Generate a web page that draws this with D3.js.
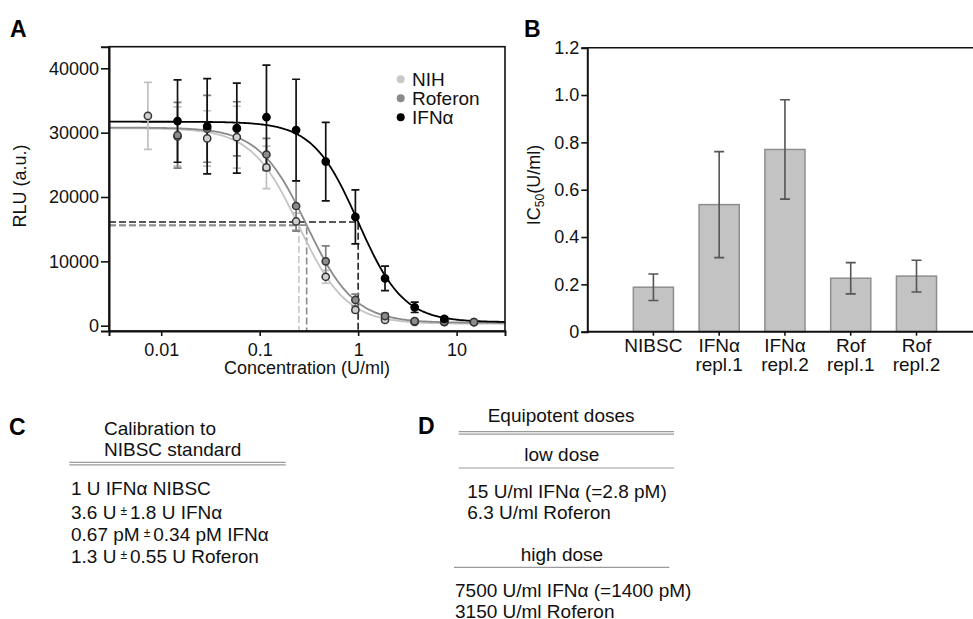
<!DOCTYPE html>
<html>
<head>
<meta charset="utf-8">
<script src="https://cdn.jsdelivr.net/npm/d3@7"></script>
<style>
  html, body { margin: 0; padding: 0; background: #fff; }
  svg { display: block; font-family: "Liberation Sans", Arial, Helvetica, sans-serif; }
</style>
</head>
<body>
<svg id="fig" width="973" height="619"></svg>
<script>
// ---- Panel A: dose-response (RLU vs concentration) ----
const doses = [15, 7.5, 3.75, 1.875, 0.9375, 0.46875, 0.234375, 0.1171875,
               0.05859375, 0.029296875, 0.0146484375, 0.00732421875];
const seriesNames = ["NIH", "Roferon", "IFNα"];
const nihMean = [550, 550, 600, 900, 2450, 7600, 16200, 24600, 29300, 29100, 29400, 32600];
const nihErr  = [200, 200, 250, 300, 400, 1000, 1300, 3300, 4800, 4300, 4600, 5200];
const rofMean = [550, 600, 700, 1500, 4000, 10000, 18600, 26600, 30600, 30600, 29600, null];
const rofErr  = [200, 200, 250, 400, 900, 2400, 3900, 2500, 4200, 5200, 5100, null];
const ifnMean = [null, 1050, 2850, 7350, 16900, 25500, 30400, 32400, 30700, 31000, 31800, null];
const ifnErr  = [null, 300, 800, 1900, 4200, 6100, 7900, 8100, 7000, 7400, 6400, null];
// four-parameter logistic fit of each series
const fitTop    = [30700, 30800, 31700];
const fitBottom = [300, 450, 550];
const fitIC50   = [0.25, 0.30, 1.0];
const fitHill   = [1.8, 1.8, 1.9];
const yTicksA = [0, 10000, 20000, 30000, 40000];
const xTicksA = [0.01, 0.1, 1, 10];

// ---- Panel B: IC50 bars ----
const barCats = ["NIBSC", "IFNα repl.1", "IFNα repl.2", "Rof repl.1", "Rof repl.2"];
const barLabels = [["NIBSC"], ["IFNα", "repl.1"], ["IFNα", "repl.2"], ["Rof", "repl.1"], ["Rof", "repl.2"]];
const ic50Values = [0.188, 0.537, 0.770, 0.226, 0.235];
const ic50Err    = [0.056, 0.224, 0.210, 0.066, 0.067];
const yTicksB = [0, 0.2, 0.4, 0.6, 0.8, 1.0, 1.2];

const svg = d3.select("#fig");
const FONT = 18;
const TFONT = 19;

// colours per series
const lineCol  = ["#c4c4c4", "#8a8a8a", "#000000"];
const fillCol  = ["#d0d0d0", "#8c8c8c", "#000000"];
const errCol   = ["#c0c0c0", "#7e7e7e", "#111111"];
const dashCol  = ["#c8c8c8", "#8a8a8a", "#222222"];

// ===== Panel A =====
const A = { l: 109, r: 505, t: 46.7, b: 331 };
const x = d3.scaleLog().domain([0.00295, 31]).range([A.l, A.r]);
const y = d3.scaleLinear().domain([-824, 43357]).range([A.b, A.t]);

const gA = svg.append("g");

// fitted curves
const logistic = i => c => fitBottom[i] + (fitTop[i] - fitBottom[i]) / (1 + Math.pow(c / fitIC50[i], fitHill[i]));
const curveX = d3.range(0, 301).map(k => Math.pow(10, Math.log10(0.00295) + k * (Math.log10(31) - Math.log10(0.00295)) / 300));

// IC50 guide lines (dashed)
[0, 1, 2].forEach(i => {
  const mid = (fitTop[i] + fitBottom[i]) / 2;
  gA.append("path")
    .attr("d", `M${A.l},${y(mid)}H${x(fitIC50[i])}V${A.b}`)
    .attr("fill", "none").attr("stroke", dashCol[i]).attr("stroke-width", 1.6)
    .attr("stroke-dasharray", "7,3");
});

const lineGen = d3.line().x(d => x(d[0])).y(d => y(d[1]));
[0, 1, 2].forEach(i => {
  const f = logistic(i);
  gA.append("path")
    .datum(curveX.map(c => [c, f(c)]))
    .attr("d", lineGen)
    .attr("fill", "none").attr("stroke", lineCol[i]).attr("stroke-width", 1.8);
});

// error bars and points
const means = [nihMean, rofMean, ifnMean];
const errs = [nihErr, rofErr, ifnErr];
[0, 1, 2].forEach(i => {
  const pts = doses.map((c, k) => ({ c, m: means[i][k], e: errs[i][k] })).filter(d => d.m != null);
  const g = gA.append("g");
  g.selectAll("path.eb").data(pts).join("path")
    .attr("d", d => {
      const cx = x(d.c), y1 = y(d.m + d.e), y0 = y(d.m - d.e);
      return `M${cx},${y1}V${y0}M${cx - 4},${y1}H${cx + 4}M${cx - 4},${y0}H${cx + 4}`;
    })
    .attr("fill", "none").attr("stroke", errCol[i]).attr("stroke-width", 1.7);
});
[0, 1, 2].forEach(i => {
  const pts = doses.map((c, k) => ({ c, m: means[i][k] })).filter(d => d.m != null);
  gA.append("g").selectAll("circle").data(pts).join("circle")
    .attr("cx", d => x(d.c)).attr("cy", d => y(d.m)).attr("r", 3.6)
    .attr("fill", fillCol[i]).attr("stroke", i === 2 ? "#000" : "#333").attr("stroke-width", 1.5);
});

// frame
gA.append("rect").attr("x", A.l).attr("y", A.t).attr("width", A.r - A.l).attr("height", A.b - A.t)
  .attr("fill", "none").attr("stroke", "#111").attr("stroke-width", 1.6);

// axes
const yAxA = gA.append("g").attr("transform", `translate(${A.l},0)`)
  .call(d3.axisLeft(y).tickValues(yTicksA).tickSize(8).tickPadding(2).tickFormat(d3.format("d")));
const xAxA = gA.append("g").attr("transform", `translate(0,${A.b})`)
  .call(d3.axisBottom(x).tickValues(xTicksA).tickSize(5).tickPadding(7).tickFormat(d => String(d)));
[yAxA, xAxA].forEach(ax => {
  ax.select(".domain").attr("stroke", "#111").attr("stroke-width", 2);
  ax.selectAll(".tick line").attr("stroke", "#111").attr("stroke-width", 1.6);
  ax.selectAll("text").attr("font-size", FONT).attr("fill", "#111").attr("font-family", null);
});

gA.append("text").attr("x", (A.l + A.r) / 2 + 0).attr("y", 374).attr("text-anchor", "middle")
  .attr("font-size", FONT).attr("fill", "#111").text("Concentration (U/ml)");
gA.append("text").attr("transform", "translate(26,186) rotate(-90)").attr("text-anchor", "middle")
  .attr("font-size", FONT).attr("fill", "#111").text("RLU (a.u.)");

// legend
const legY = [79.3, 98.3, 117.3];
const legFill = ["#c8c8c8", "#8a8a8a", "#000"];
seriesNames.forEach((n, i) => {
  gA.append("circle").attr("cx", 400.7).attr("cy", legY[i]).attr("r", 4).attr("fill", legFill[i]);
  gA.append("text").attr("x", 412).attr("y", legY[i] + 6.5).attr("font-size", TFONT).attr("fill", "#111").text(n);
});

// ===== Panel B =====
const B = { l: 587.3, t: 47.7, b: 331.7 };
const xb = d3.scaleBand().domain(barCats).range([B.l, 982.6]).paddingInner(0.39).paddingOuter(0.7);
const yb = d3.scaleLinear().domain([0, 1.2]).range([B.b, B.t]);
const gB = svg.append("g");

gB.selectAll("rect.bar").data(barCats).join("rect")
  .attr("x", d => xb(d)).attr("width", xb.bandwidth())
  .attr("y", (d, i) => yb(ic50Values[i])).attr("height", (d, i) => B.b - yb(ic50Values[i]))
  .attr("fill", "#c3c3c3").attr("stroke", "#8e8e8e").attr("stroke-width", 1.5);

gB.selectAll("path.err").data(barCats).join("path")
  .attr("d", (d, i) => {
    const cx = xb(d) + xb.bandwidth() / 2;
    const y1 = yb(ic50Values[i] + ic50Err[i]), y0 = yb(ic50Values[i] - ic50Err[i]);
    return `M${cx},${y1}V${y0}M${cx - 5},${y1}H${cx + 5}M${cx - 5},${y0}H${cx + 5}`;
  })
  .attr("fill", "none").attr("stroke", "#555").attr("stroke-width", 1.6);

// top border line
gB.append("line").attr("x1", B.l).attr("x2", 973).attr("y1", B.t).attr("y2", B.t)
  .attr("stroke", "#111").attr("stroke-width", 1.6);

const yAxB = gB.append("g").attr("transform", `translate(${B.l},0)`)
  .call(d3.axisLeft(yb).tickValues(yTicksB).tickSize(6).tickPadding(2)
    .tickFormat(d => d === 0 ? "0" : d3.format(".1f")(d)));
const xAxB = gB.append("g").attr("transform", `translate(0,${B.b})`)
  .call(d3.axisBottom(xb).tickSize(4).tickFormat(""));
[yAxB, xAxB].forEach(ax => {
  ax.select(".domain").attr("stroke", "#111").attr("stroke-width", 2);
  ax.selectAll(".tick line").attr("stroke", "#111").attr("stroke-width", 1.6);
  ax.selectAll("text").attr("font-size", FONT).attr("fill", "#111").attr("font-family", null);
});
xAxB.select(".domain").attr("d", `M${B.l},0H973`);

barCats.forEach((c, i) => {
  const t = gB.append("text").attr("text-anchor", "middle").attr("font-size", TFONT).attr("fill", "#111");
  barLabels[i].forEach((s, k) => {
    t.append("tspan").attr("x", xb(c) + xb.bandwidth() / 2).attr("y", 352 + k * 19).text(s);
  });
});

const yl = gB.append("text").attr("transform", "translate(539.5,185) rotate(-90)").attr("text-anchor", "middle")
  .attr("font-size", FONT).attr("fill", "#111");
yl.append("tspan").text("IC");
yl.append("tspan").attr("font-size", 12).attr("dy", 4).text("50");
yl.append("tspan").attr("dy", -4).text("(U/ml)");

// ===== Panel letters =====
[["A", 10, 36.7], ["B", 524, 37.3], ["C", 9, 435], ["D", 418, 434]].forEach(([s, lx, ly]) => {
  svg.append("text").attr("x", lx).attr("y", ly).attr("font-size", 23).attr("font-weight", "bold")
    .attr("fill", "#000").text(s);
});

// ===== Panel C: calibration table =====
const gC = svg.append("g").attr("font-size", TFONT).attr("fill", "#111");
gC.append("text").attr("x", 104).attr("y", 435).text("Calibration to");
gC.append("text").attr("x", 104).attr("y", 456).text("NIBSC standard");
[462.3, 464.8].forEach(yy => gC.append("line").attr("x1", 69.3).attr("x2", 285.7).attr("y1", yy).attr("y2", yy)
  .attr("stroke", "#9a9a9a").attr("stroke-width", 1.2));
const calibLines = [
  ["1 U IFNα NIBSC"],
  ["3.6 U", "1.8 U IFNα"],
  ["0.67 pM", "0.34 pM IFNα"],
  ["1.3 U", "0.55 U Roferon"]
];
const calibY = [495, 518.5, 541, 563.3];
calibLines.forEach((parts, i) => {
  const t = gC.append("text").attr("x", 71).attr("y", calibY[i]);
  t.append("tspan").text(parts[0]);
  if (parts.length > 1) {
    t.append("tspan").attr("font-size", 12).attr("dy", -4).attr("dx", 4).text("±");
    t.append("tspan").attr("dy", 4).attr("dx", 3).text(parts[1]);
  }
});

// ===== Panel D: equipotent doses =====
const gD = svg.append("g").attr("font-size", TFONT).attr("fill", "#111");
gD.append("text").attr("x", 487.7).attr("y", 421.7).text("Equipotent doses");
[431.7, 434.2].forEach(yy => gD.append("line").attr("x1", 458.7).attr("x2", 674).attr("y1", yy).attr("y2", yy)
  .attr("stroke", "#9a9a9a").attr("stroke-width", 1.2));
gD.append("text").attr("x", 524.3).attr("y", 461).text("low dose");
gD.append("line").attr("x1", 458.7).attr("x2", 674).attr("y1", 468).attr("y2", 468)
  .attr("stroke", "#9a9a9a").attr("stroke-width", 1.2);
gD.append("text").attr("x", 467.3).attr("y", 498.3).text("15 U/ml IFNα (=2.8 pM)");
gD.append("text").attr("x", 467.3).attr("y", 519.3).text("6.3 U/ml Roferon");
gD.append("text").attr("x", 520.7).attr("y", 560.7).text("high dose");
gD.append("line").attr("x1", 454).attr("x2", 669.3).attr("y1", 567.3).attr("y2", 567.3)
  .attr("stroke", "#9a9a9a").attr("stroke-width", 1.2);
gD.append("text").attr("x", 455).attr("y", 597.3).text("7500 U/ml IFNα (=1400 pM)");
gD.append("text").attr("x", 455).attr("y", 618).text("3150 U/ml Roferon");
</script>
</body>
</html>
